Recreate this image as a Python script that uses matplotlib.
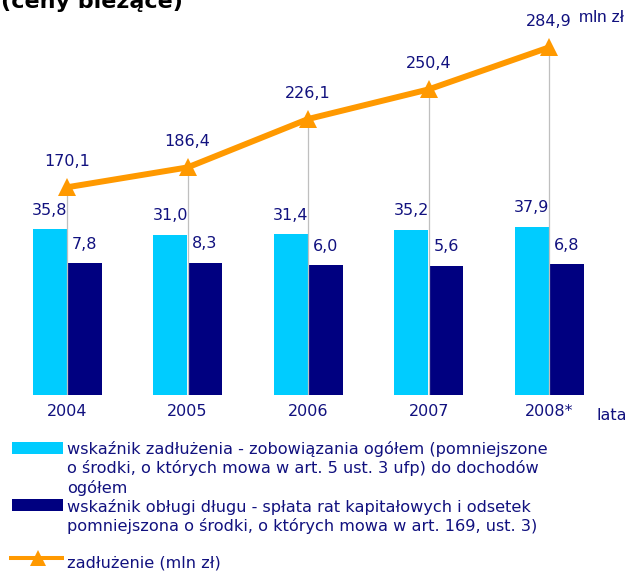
import matplotlib
matplotlib.use('Agg')
import matplotlib.pyplot as plt
import numpy as np
from matplotlib.patches import Rectangle
from matplotlib.lines import Line2D

# ---- data ----
years = ['2004', '2005', '2006', '2007', '2008*']
debt_ratio = [35.8, 31.0, 31.4, 35.2, 37.9]        # wskaźnik zadłużenia
service_ratio = [7.8, 8.3, 6.0, 5.6, 6.8]         # wskaźnik obsługi długu
debt_mln = [170.1, 186.4, 226.1, 250.4, 284.9]    # zadłużenie (mln zł)
legend_bar1 = ['wskaźnik zadłużenia - zobowiązania ogółem (pomniejszone',
               'o środki, o których mowa w art. 5 ust. 3 ufp) do dochodów',
               'ogółem']
legend_bar2 = ['wskaźnik obługi długu - spłata rat kapitałowych i odsetek',
               'pomniejszona o środki, o których mowa w art. 169, ust. 3)']
legend_line = 'zadłużenie (mln zł)'
title_text = '(ceny bieżące)'
unit_text = 'mln zł'
xaxis_title = 'lata'

# ---- style ----
C_LIGHT = '#00CCFF'
C_DARK = '#000080'
C_LINE = '#FF9900'
C_TEXT = '#11117F'
C_DROP = '#BFBFBF'
FS = 11.5
FS_LEG = 11.6
W, H = 636, 572
BAR_FLOOR = -100   # category axis crosses the bar value axis here

fig = plt.figure(figsize=(W / 100, H / 100), dpi=100)
def fx(p): return p / W
def fy(p): return 1 - p / H
def pt(px): return px * 0.72

ax_top, ax_bot, ax_l, ax_r = 28.9, 394.7, 6.75, 609.5
ax = fig.add_axes([fx(ax_l), fy(ax_bot), fx(ax_r - ax_l), (ax_bot - ax_top) / H])
ax2 = ax.twinx()

x = np.arange(len(years))
bw = 0.282
gap = 0.004
ax.bar(x - bw / 2 - gap, np.array(debt_ratio) - BAR_FLOOR, bottom=BAR_FLOOR,
       width=bw, color=C_LIGHT, zorder=2)
ax.bar(x + bw / 2 + gap, np.array(service_ratio) - BAR_FLOOR, bottom=BAR_FLOOR,
       width=bw, color=C_DARK, zorder=2)
ax.set_ylim(BAR_FLOOR, BAR_FLOOR + 300)
ax.set_xlim(-0.5, len(years) - 0.5)

def fmt(v):
    return f'{v:.1f}'.replace('.', ',')

for xi, v in zip(x - bw / 2 - gap, debt_ratio):
    ax.annotate(fmt(v), (xi, v), xytext=(0, pt(14.5)), textcoords='offset points',
                ha='center', va='baseline', fontsize=FS, color=C_TEXT,
                family='DejaVu Sans')
for xi, v in zip(x + bw / 2 + gap, service_ratio):
    ax.annotate(fmt(v), (xi, v), xytext=(0, pt(14.5)), textcoords='offset points',
                ha='center', va='baseline', fontsize=FS, color=C_TEXT,
                family='DejaVu Sans')

ax2.vlines(x, 0, debt_mln, color=C_DROP, lw=0.9, zorder=1)
ax2.plot(x, debt_mln, color=C_LINE, lw=4.3, marker='^', ms=13,
         markeredgewidth=0, zorder=3, solid_capstyle='butt')
ax2.set_ylim(0, 300)
for xi, v in zip(x, debt_mln):
    ax2.annotate(fmt(v), (xi, v), xytext=(0, pt(21.5)), textcoords='offset points',
                 ha='center', va='baseline', fontsize=FS, color=C_TEXT,
                 family='DejaVu Sans')

for a in (ax, ax2):
    for s in a.spines.values():
        s.set_visible(False)
    a.set_yticks([])
ax.set_xticks(x, years)
ax.tick_params(axis='x', length=0, pad=7, labelsize=FS, labelcolor=C_TEXT)

# unit and axis title
fig.text(fx(579), fy(21.5), unit_text, ha='left', va='baseline', fontsize=12.3,
         color=C_TEXT, family='Liberation Sans')
fig.text(fx(597), fy(420), xaxis_title, ha='left', va='baseline', fontsize=FS,
         color=C_TEXT, family='DejaVu Sans')

# cut-off title at top (only its lower part is visible in the reference)
fig.text(fx(1), fy(8.5), title_text, ha='left', va='baseline', fontsize=16,
         fontweight='bold', color='black', family='DejaVu Sans')

# ---- manual legend ----
fig.add_artist(Rectangle((fx(12), fy(454)), fx(51), 12 / H, transform=fig.transFigure,
                         color=C_LIGHT, lw=0))
fig.add_artist(Rectangle((fx(12), fy(511)), fx(51), 12 / H, transform=fig.transFigure,
                         color=C_DARK, lw=0))
fig.add_artist(Line2D([fx(9), fx(64)], [fy(558), fy(558)], transform=fig.transFigure,
                      color=C_LINE, lw=2.9, solid_capstyle='butt'))
fig.add_artist(Line2D([fx(37.5)], [fy(558)], transform=fig.transFigure,
                      color=C_LINE, marker='^', ms=11, markeredgewidth=0, lw=0))

base = 454
for i, t in enumerate(legend_bar1):
    fig.text(fx(67), fy(base + 19.5 * i), t, ha='left', va='baseline', fontsize=FS_LEG,
             color=C_TEXT, family='DejaVu Sans')
base = 512
for i, t in enumerate(legend_bar2):
    fig.text(fx(67), fy(base + 19 * i), t, ha='left', va='baseline', fontsize=FS_LEG,
             color=C_TEXT, family='DejaVu Sans')
fig.text(fx(67), fy(568), legend_line, ha='left', va='baseline', fontsize=FS_LEG,
         color=C_TEXT, family='DejaVu Sans')

fig.savefig('out.png', dpi=100)
